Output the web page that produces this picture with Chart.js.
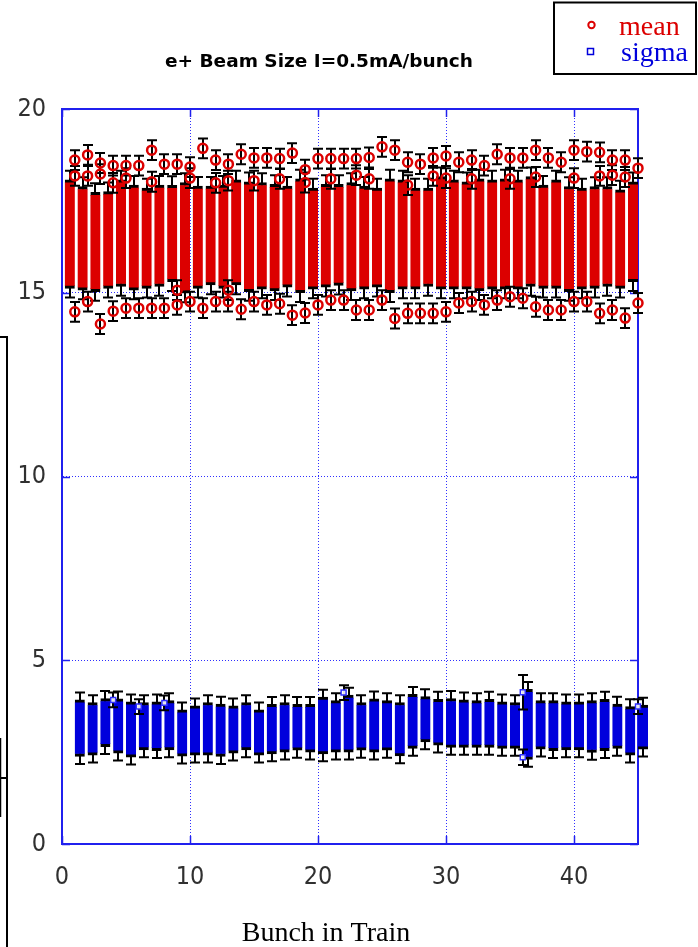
<!DOCTYPE html>
<html>
<head>
<meta charset="utf-8">
<script src="https://cdn.jsdelivr.net/npm/chart.js@4.4.1/dist/chart.umd.min.js"></script>
<style>
html, body { margin: 0; padding: 0; background: #fff; }
#wrap { width: 698px; height: 947px; position: relative; }
</style>
</head>
<body>
<div id="wrap"><canvas id="c" width="698" height="947"></canvas></div>
<script>
// Bunch numbers along the train
const bunches = [1,2,3,4,5,6,7,8,9,10,11,12,13,14,15,16,17,18,19,20,21,22,23,24,25,26,27,28,29,30,31,32,33,34,35,36,37,38,39,40,41,42,43,44,45];

// Mean beam size: dense band of measurements per bunch (low / high edge)
const meanLow  = [15.12,15.07,15.03,15.12,15.17,15.07,15.12,15.17,15.30,14.99,15.12,15.21,15.12,15.21,15.03,
                  15.10,15.05,15.15,15.00,15.10,15.15,15.20,15.05,15.10,15.15,15.00,
                  15.10,15.10,15.17,15.10,15.10,15.10,15.05,15.10,15.10,15.10,15.17,15.12,15.12,15.03,15.10,15.12,15.17,15.12,15.30];
const meanHigh = [18.07,17.89,17.73,17.75,18.07,17.93,17.85,17.93,17.92,18.00,17.90,17.90,17.93,18.07,18.02,
                  18.00,17.95,17.90,18.10,17.85,17.95,17.95,18.00,17.90,17.85,18.10,
                  18.07,17.85,17.85,18.16,18.07,18.02,18.10,18.07,18.10,18.07,18.16,17.93,18.07,17.89,17.85,17.89,17.89,17.80,18.02];

// Mean beam size: separate measurements above / below the band
const meanUpper  = [18.61,18.75,18.53,18.46,18.46,18.46,18.88,18.50,18.50,18.42,18.93,18.61,18.50,18.77,18.67,
                    18.67,18.65,18.80,18.35,18.65,18.65,18.65,18.65,18.68,18.97,18.88,
                    18.55,18.50,18.67,18.72,18.55,18.61,18.46,18.77,18.67,18.67,18.88,18.67,18.55,18.88,18.84,18.82,18.61,18.61,18.39];
const meanUpper2 = [18.18,18.18,18.23,17.99,18.12,null,18.02,null,null,18.12,null,17.99,18.05,null,18.05,
                    null,18.10,null,18.00,null,18.10,null,18.20,18.10,null,null,
                    17.93,null,18.18,18.12,null,18.10,null,null,18.10,null,18.15,null,null,18.12,null,18.18,18.20,18.15,null];
const meanLower  = [14.48,14.76,14.15,14.50,14.58,14.58,14.58,14.58,14.67,14.76,14.58,14.76,14.76,14.55,14.76,
                    14.67,14.70,14.39,14.45,14.67,14.80,14.80,14.53,14.53,14.80,14.30,
                    14.44,14.44,14.44,14.48,14.72,14.76,14.67,14.80,14.89,14.85,14.62,14.53,14.53,14.76,14.76,14.44,14.53,14.31,14.72];
const meanLower2 = [null,null,null,null,null,null,null,null,15.07,null,null,null,15.07,null,null,
                    null,null,null,null,null,null,null,null,null,null,null,
                    null,null,null,null,null,null,null,null,null,null,null,null,null,null,null,null,null,null,null];
const meanErr = 0.27;
const meanBandErr = 0.25;

// Sigma: dense band per bunch (low / high edge)
const sigmaLow  = [2.38,2.42,2.65,2.47,2.36,2.56,2.54,2.56,2.39,2.42,2.42,2.38,2.47,2.56,2.42,
                   2.45,2.50,2.55,2.50,2.45,2.50,2.50,2.55,2.50,2.55,2.40,
                   2.60,2.78,2.69,2.63,2.63,2.63,2.63,2.60,2.60,2.30,2.58,2.54,2.56,2.56,2.49,2.54,2.60,2.42,2.58];
const sigmaHigh = [3.92,3.85,3.96,3.95,3.87,3.85,3.87,3.90,3.65,3.76,3.85,3.81,3.76,3.85,3.65,
                   3.80,3.85,3.80,3.80,4.00,3.90,4.05,3.85,3.95,3.90,3.85,
                   4.07,4.01,3.94,3.96,3.92,3.90,3.94,3.87,3.85,4.21,3.90,3.90,3.87,3.87,3.90,3.94,3.81,3.74,3.78];
const sigmaBandErr = 0.2;

// Sigma: individually visible measurements
const sigmaMarkBunch = [4, 6, 8, 22, 36, 36, 45];
const sigmaMarkValue = [3.92, 3.74, 3.84, 4.12, 4.13, 2.36, 3.74];
const sigmaMarkErr   = [0.2, 0.2, 0.2, 0.2, 0.47, 0.21, 0.2];

// Axis ticks and labels
const xTicks = [0, 10, 20, 30, 40];
const yTicks = [0, 5, 10, 15, 20];
const titleText = 'e+ Beam Size I=0.5mA/bunch';
const xTitle = 'Bunch in Train';
const seriesNames = ['mean', 'sigma'];

const RED = '#dc0000';
const BLUE = '#0000dc';
const FRAME = '#2020ee';
const tickFont = { family: "'Liberation Sans Narrow', 'DejaVu Sans Condensed', sans-serif", size: 25 };

// point lists built from the arrays above
function collect(lists) {
  const pts = [], errs = [];
  lists.forEach(arr => arr.forEach((v, i) => {
    if (v === null) return;
    pts.push({ x: bunches[i], y: v });
    errs.push([v - meanErr, v + meanErr]);
  }));
  return { pts, errs };
}
const meanPts = collect([meanUpper, meanUpper2, meanLower, meanLower2]);
const sigmaPts = sigmaMarkBunch.map((b, i) => ({ x: b, y: sigmaMarkValue[i] }));
const sigmaPtErrs = sigmaMarkValue.map((v, i) => [v - sigmaMarkErr[i], v + sigmaMarkErr[i]]);

// Black error whiskers drawn just before the dataset that owns them
const errorBars = {
  id: 'errorBars',
  beforeDatasetDraw(chart, args) {
    const ds = chart.data.datasets[args.index];
    if (!ds.errorBars) return;
    const ctx = chart.ctx, ys = chart.scales.y;
    ctx.save();
    ctx.strokeStyle = '#000';
    ctx.lineWidth = 2;
    args.meta.data.forEach((el, i) => {
      const e = ds.errorBars[i];
      if (!e) return;
      const x = Math.round(el.x);
      const y1 = ys.getPixelForValue(e[1]);
      const y0 = ys.getPixelForValue(e[0]);
      ctx.beginPath();
      ctx.moveTo(x, y1); ctx.lineTo(x, y0);
      ctx.moveTo(x - 5, y1); ctx.lineTo(x + 5, y1);
      ctx.moveTo(x - 5, y0); ctx.lineTo(x + 5, y0);
      ctx.stroke();
    });
    ctx.restore();
  }
};

// Solid plot frame with inward tick marks
const frame = {
  id: 'frame',
  beforeDatasetsDraw(chart) {
    const { ctx, chartArea: a, scales: { x, y } } = chart;
    ctx.save();
    ctx.strokeStyle = FRAME;
    ctx.lineWidth = 2;
    ctx.strokeRect(a.left, a.top, a.right - a.left, a.bottom - a.top);
    ctx.lineWidth = 1.5;
    ctx.beginPath();
    xTicks.forEach(v => {
      const px = Math.round(x.getPixelForValue(v)) + 0.5;
      ctx.moveTo(px, a.bottom); ctx.lineTo(px, a.bottom - 8);
      ctx.moveTo(px, a.top); ctx.lineTo(px, a.top + 8);
    });
    yTicks.forEach(v => {
      const py = Math.round(y.getPixelForValue(v)) + 0.5;
      ctx.moveTo(a.left, py); ctx.lineTo(a.left + 8, py);
      ctx.moveTo(a.right, py); ctx.lineTo(a.right - 8, py);
    });
    ctx.stroke();
    ctx.restore();
  }
};

// Axis title, boxed key in the upper right and the window edge lines on the left
const extras = {
  id: 'extras',
  afterDraw(chart) {
    const ctx = chart.ctx;
    ctx.save();
    ctx.font = "28px 'Liberation Serif', serif";
    ctx.fillStyle = '#000';
    ctx.textAlign = 'center';
    ctx.textBaseline = 'alphabetic';
    ctx.fillText(xTitle, 326, 941);

    ctx.textAlign = 'left';
    ctx.fillStyle = '#fff';
    ctx.fillRect(554, 2, 142, 72);
    ctx.strokeStyle = '#000';
    ctx.lineWidth = 2;
    ctx.strokeRect(554, 2.5, 142, 71.5);

    ctx.strokeStyle = RED;
    ctx.lineWidth = 2;
    ctx.beginPath();
    ctx.arc(591.5, 25, 3.2, 0, Math.PI * 2);
    ctx.stroke();
    ctx.strokeStyle = BLUE;
    ctx.lineWidth = 1.5;
    ctx.strokeRect(587.5, 48.5, 6, 6);

    ctx.font = "28px 'Liberation Serif', serif";
    ctx.fillStyle = RED;
    ctx.fillText(seriesNames[0], 619, 35);
    ctx.fillStyle = BLUE;
    ctx.fillText(seriesNames[1], 621, 61);

    ctx.strokeStyle = '#000';
    ctx.lineWidth = 2;
    ctx.beginPath();
    ctx.moveTo(0, 337); ctx.lineTo(8, 337);
    ctx.moveTo(7, 336); ctx.lineTo(7, 947);
    ctx.moveTo(0, 778); ctx.lineTo(7, 778);
    ctx.stroke();
    ctx.lineWidth = 1.5;
    ctx.beginPath();
    ctx.moveTo(0.5, 738); ctx.lineTo(0.5, 817);
    ctx.stroke();
    ctx.restore();
  }
};

const bandBorder = { top: 3, bottom: 3, left: 0, right: 0 };

new Chart(document.getElementById('c'), {
  type: 'scatter',
  data: {
    datasets: [
      {
        label: seriesNames[0],
        type: 'scatter',
        data: meanPts.pts,
        errorBars: meanPts.errs,
        pointStyle: 'circle',
        pointRadius: 4.5,
        pointBorderWidth: 2.5,
        pointBorderColor: RED,
        pointBackgroundColor: 'rgba(255,255,255,0)',
        order: 1,
        clip: false
      },
      {
        label: seriesNames[1],
        type: 'scatter',
        data: sigmaPts,
        errorBars: sigmaPtErrs,
        pointStyle: 'rect',
        pointRadius: 3.5,
        pointBorderWidth: 1.5,
        pointBorderColor: '#3030ff',
        pointBackgroundColor: 'rgba(255,255,255,0.9)',
        order: 2,
        clip: false
      },
      {
        label: seriesNames[0] + ' band',
        type: 'bar',
        data: bunches.map((b, i) => ({ x: b, y: [meanLow[i], meanHigh[i]] })),
        errorBars: bunches.map((b, i) => [meanLow[i] - meanBandErr, meanHigh[i] + meanBandErr]),
        backgroundColor: RED,
        borderColor: '#000',
        borderWidth: bandBorder,
        borderSkipped: false,
        barThickness: 10,
        order: 3,
        clip: false
      },
      {
        label: seriesNames[1] + ' band',
        type: 'bar',
        data: bunches.map((b, i) => ({ x: b, y: [sigmaLow[i], sigmaHigh[i]] })),
        errorBars: bunches.map((b, i) => [sigmaLow[i] - sigmaBandErr, sigmaHigh[i] + sigmaBandErr]),
        backgroundColor: BLUE,
        borderColor: '#000',
        borderWidth: bandBorder,
        borderSkipped: false,
        barThickness: 10,
        order: 4,
        clip: false
      }
    ]
  },
  options: {
    responsive: false,
    devicePixelRatio: 1,
    animation: false,
    layout: { padding: { left: 0, right: 60, top: 0, bottom: 0 } },
    plugins: {
      legend: { display: false },
      tooltip: { enabled: false },
      title: {
        display: true,
        text: titleText,
        color: '#000',
        font: { family: "'DejaVu Sans', sans-serif", size: 18.5, weight: 'bold' },
        padding: { top: 51, bottom: 35.8 }
      }
    },
    scales: {
      x: {
        type: 'linear',
        min: 0,
        max: 45,
        offset: false,
        afterBuildTicks: s => { s.ticks = xTicks.map(v => ({ value: v })); },
        afterFit: s => { s.height = 103; },
        ticks: { color: '#303030', font: tickFont, padding: 18, maxRotation: 0, autoSkip: false },
        grid: { color: '#3030ff', lineWidth: 1, drawTicks: false, offset: false },
        border: { display: true, color: FRAME, width: 2, dash: [1, 2] }
      },
      y: {
        type: 'linear',
        min: 0,
        max: 20,
        afterBuildTicks: s => { s.ticks = yTicks.map(v => ({ value: v })); },
        afterFit: s => { s.width = 62; },
        ticks: { color: '#303030', font: tickFont, padding: 16 },
        grid: { color: '#3030ff', lineWidth: 1, drawTicks: false },
        border: { display: true, color: FRAME, width: 2, dash: [1, 2] }
      }
    }
  },
  plugins: [errorBars, frame, extras]
});
</script>
</body>
</html>
